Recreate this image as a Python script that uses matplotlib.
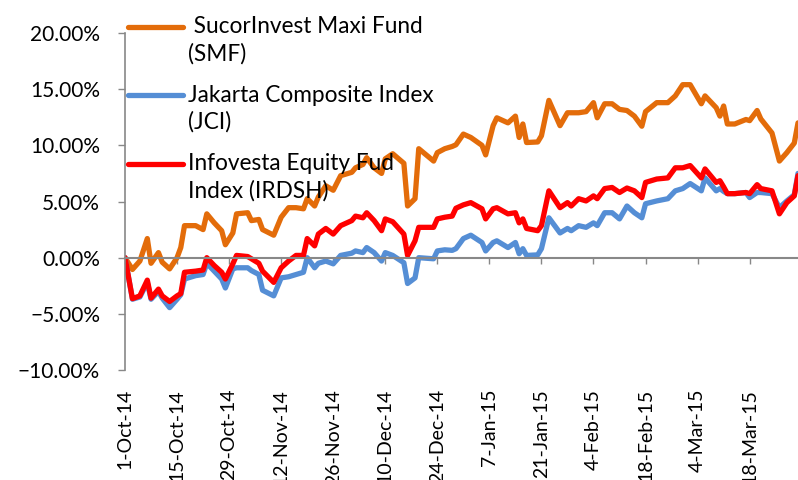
import numpy as np
import pandas as pd
import matplotlib
matplotlib.use("Agg")
import matplotlib.pyplot as plt
import matplotlib.dates as mdates
from matplotlib.ticker import PercentFormatter
from matplotlib.legend_handler import HandlerLine2D

plt.rcParams['font.family'] = ['Lato', 'DejaVu Sans']

# cumulative return (%)
dates = pd.to_datetime([
    "2014-10-01", "2014-10-03", "2014-10-05", "2014-10-07", "2014-10-08", "2014-10-10",
    "2014-10-11", "2014-10-13", "2014-10-15", "2014-10-16", "2014-10-17", "2014-10-20",
    "2014-10-22", "2014-10-23", "2014-10-25", "2014-10-27", "2014-10-28", "2014-10-30",
    "2014-10-31", "2014-11-03", "2014-11-04", "2014-11-06", "2014-11-07", "2014-11-10",
    "2014-11-12", "2014-11-14", "2014-11-16", "2014-11-18", "2014-11-19", "2014-11-21",
    "2014-11-22", "2014-11-24", "2014-11-26", "2014-11-28", "2014-12-01", "2014-12-02",
    "2014-12-04", "2014-12-05", "2014-12-07", "2014-12-09", "2014-12-10", "2014-12-12",
    "2014-12-15", "2014-12-16", "2014-12-18", "2014-12-19", "2014-12-23", "2014-12-24",
    "2014-12-26", "2014-12-28", "2014-12-29", "2014-12-31", "2015-01-02", "2015-01-05",
    "2015-01-06", "2015-01-08", "2015-01-09", "2015-01-12", "2015-01-14", "2015-01-15",
    "2015-01-16", "2015-01-17", "2015-01-20", "2015-01-21", "2015-01-23", "2015-01-26",
    "2015-01-28", "2015-01-29", "2015-01-31", "2015-02-02", "2015-02-04", "2015-02-05",
    "2015-02-07", "2015-02-09", "2015-02-11", "2015-02-13", "2015-02-15", "2015-02-17",
    "2015-02-18", "2015-02-21", "2015-02-24", "2015-02-26", "2015-02-28", "2015-03-02",
    "2015-03-05", "2015-03-06", "2015-03-09", "2015-03-10", "2015-03-11", "2015-03-12",
    "2015-03-14", "2015-03-17", "2015-03-18", "2015-03-20", "2015-03-21", "2015-03-24",
    "2015-03-26", "2015-03-28", "2015-03-30", "2015-03-31",
])

smf = [
    0.0, -1.05, -0.3, 1.7, -0.5, 0.45, -0.4, -1.0, 0.0, 0.9, 2.85, 2.85,
    2.5, 3.9, 3.1, 2.4, 1.15, 2.2, 3.9, 4.0, 3.3, 3.4, 2.5, 2.0,
    3.6, 4.45, 4.45, 4.35, 5.25, 4.6, 5.4, 6.4, 6.0, 7.3, 7.6, 8.0,
    8.3, 8.9, 8.0, 7.5, 8.8, 9.25, 8.4, 4.6, 5.25, 9.7, 8.6, 9.35,
    9.7, 9.9, 10.05, 11.0, 10.7, 10.0, 9.15, 11.75, 12.45, 12.0, 12.6, 10.7,
    11.9, 10.25, 10.3, 10.85, 14.0, 11.75, 12.9, 12.9, 12.9, 13.0, 13.8, 12.45,
    13.7, 13.7, 13.2, 13.1, 12.6, 11.7, 13.0, 13.8, 13.8, 14.4, 15.4, 15.4,
    13.7, 14.4, 13.35, 12.6, 13.5, 11.9, 11.9, 12.3, 12.2, 13.1, 12.35, 11.1,
    8.6, 9.35, 10.2, 12.0,
]

jci = [
    0.0, -3.7, -3.5, -2.2, -3.7, -3.0, -3.6, -4.45, -3.7, -3.3, -1.9, -1.6,
    -1.5, -0.5, -1.2, -1.9, -2.7, -1.0, -0.9, -0.9, -1.15, -1.5, -2.9, -3.4,
    -1.8, -1.7, -1.5, -1.3, 0.0, -0.9, -0.5, -0.3, -0.55, 0.2, 0.4, 0.6,
    0.45, 0.9, 0.45, -0.3, 0.45, 0.2, -0.45, -2.3, -1.8, 0.0, -0.1, 0.6,
    0.7, 0.65, 0.8, 1.7, 2.0, 1.35, 0.6, 1.35, 1.5, 0.9, 1.35, 0.35,
    0.8, 0.2, 0.25, 0.8, 3.55, 2.2, 2.6, 2.4, 2.85, 2.7, 3.1, 2.85,
    4.0, 4.0, 3.45, 4.6, 4.0, 3.55, 4.8, 5.05, 5.25, 5.95, 6.15, 6.6,
    5.95, 7.1, 5.95, 6.15, 5.9, 5.7, 5.7, 5.8, 5.35, 5.8, 5.8, 5.7,
    4.45, 5.05, 5.6, 7.5,
]

irdsh = [
    0.0, -3.65, -3.4, -2.0, -3.6, -2.8, -3.4, -3.9, -3.4, -3.2, -1.3, -1.2,
    -1.1, 0.0, -0.7, -1.3, -1.9, -0.55, 0.2, 0.1, -0.1, -0.5, -1.2, -2.2,
    -0.9, -0.3, 0.2, 0.2, 1.7, 1.05, 2.1, 2.6, 2.1, 2.85, 3.3, 3.7,
    3.55, 4.0, 3.3, 2.4, 3.45, 3.2, 2.1, 0.2, 1.5, 2.7, 2.7, 3.45,
    3.6, 3.7, 4.4, 4.7, 4.9, 4.35, 3.45, 4.35, 4.45, 3.9, 4.0, 3.1,
    3.45, 2.6, 2.4, 2.85, 5.95, 4.45, 4.9, 4.6, 5.25, 5.05, 5.5, 5.25,
    6.15, 6.25, 5.8, 6.2, 5.95, 5.35, 6.7, 7.0, 7.1, 8.0, 8.0, 8.2,
    7.1, 7.9, 6.7, 6.85, 6.3, 5.7, 5.7, 5.8, 5.7, 6.5, 6.15, 5.95,
    3.9, 4.9, 5.5, 7.3,
]

labels = [" SucorInvest Maxi Fund\n(SMF)",
          "Jakarta Composite Index\n(JCI)",
          "Infovesta Equity Fud\nIndex (IRDSH)"]
colors = ["#E36C0A", "#558ED5", "#FF0000"]

tick_dates = pd.date_range("2014-10-01", "2015-03-31", freq="14D")


class FirstLineHandler(HandlerLine2D):
    # put the legend line next to the first text line
    def __init__(self, shift, **kw):
        super().__init__(**kw)
        self.shift = shift

    def create_artists(self, legend, orig_handle, xdescent, ydescent,
                       width, height, fontsize, trans):
        arts = super().create_artists(legend, orig_handle, xdescent, ydescent,
                                      width, height, fontsize, trans)
        for a in arts:
            a.set_ydata(np.asarray(a.get_ydata()) + self.shift * fontsize)
        return arts


fig = plt.figure(figsize=(7.98, 4.8), dpi=100)
ax = fig.add_axes([125 / 798, 1 - 370 / 480, 1 - 125 / 798, 337 / 480])

handles = []
for series, lab, col in zip([smf, jci, irdsh], labels, colors):
    h, = ax.plot(dates, series, color=col, lw=3.8, label=lab,
                 solid_joinstyle='round', solid_capstyle='round')
    handles.append(h)

ax.set_ylim(-10, 20)
ax.set_xlim(pd.Timestamp("2014-10-01"), pd.Timestamp("2015-03-31"))
ax.yaxis.set_major_formatter(PercentFormatter(xmax=100, decimals=2))
ax.set_yticks(np.arange(-10, 20.1, 5))
ax.set_xticks(tick_dates)
ax.xaxis.set_major_formatter(mdates.DateFormatter("%-d-%b-%y"))

grey = "#888888"
for s in ["top", "right"]:
    ax.spines[s].set_visible(False)
ax.spines["left"].set_color(grey)
ax.spines["left"].set_linewidth(1.2)
ax.spines["bottom"].set_position(("data", 0))
ax.spines["bottom"].set_color(grey)
ax.spines["bottom"].set_linewidth(1.5)

ax.tick_params(axis="y", direction="out", length=5, width=1, color=grey,
               labelsize=15, pad=13)
ax.tick_params(axis="x", direction="out", length=4.5, width=1, color=grey,
               pad=90, labelsize=14)
for t in ax.get_xticklabels():
    t.set_rotation(90)

leg = ax.legend(handles=handles, loc="upper left", bbox_to_anchor=(0.005, 1.05),
                frameon=False, fontsize=16.3, handlelength=2.4, handletextpad=0.25,
                labelspacing=0.9, borderpad=0, borderaxespad=0,
                handler_map={h: FirstLineHandler(0.62) for h in handles})
for t in leg.get_texts():
    t.set_linespacing(1.32)

fig.savefig("out.png", dpi=100)
